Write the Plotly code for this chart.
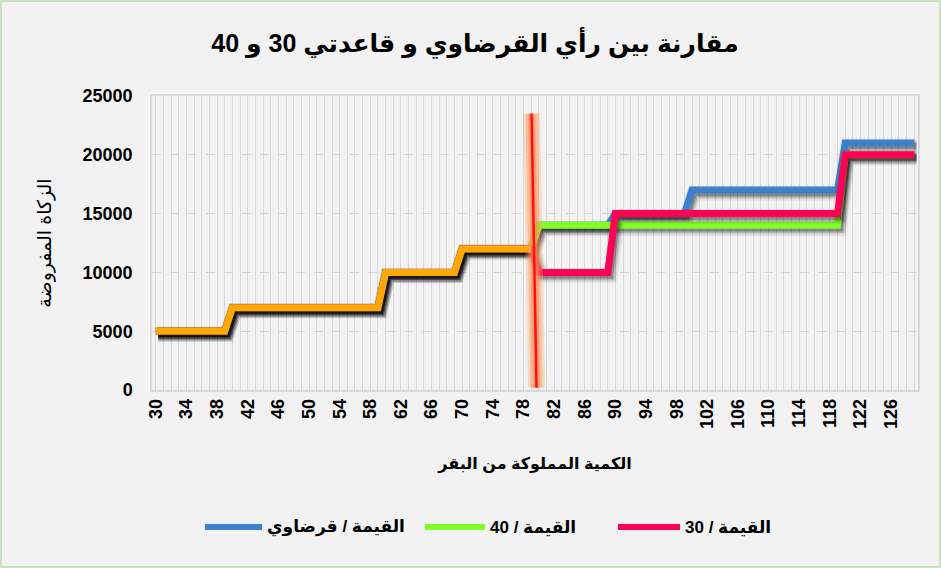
import plotly.graph_objects as go

# ---- data ----
quantity = list(range(30, 130))  # categories: number of cows owned

qaradawi = ([5000] * 10 + [7000] * 20 + [10000] * 10 + [12000] * 10 +
            [14000] * 10 + [15000] * 10 + [17000] * 20 + [21000] * 10)
rule_40 = ([5000] * 10 + [7000] * 20 + [10000] * 10 + [12000] * 10 +
           [14000] * 40 + [20000] * 10)
rule_30 = ([5000] * 10 + [7000] * 20 + [10000] * 10 + [12000] * 10 +
           [10000] * 10 + [15000] * 30 + [20000] * 10)
common_end = 79  # all three views agree up to this quantity (orange part)

divider_x = [79.05, 79.7]
divider_y = [23500, 200]

tick_labels = list(range(30, 127, 4))
y_ticks = [0, 5000, 10000, 15000, 20000, 25000]

names = ["القيمة / قرضاوي", "القيمة / 40", "القيمة / 30"]
colors = ["#3D80CC", "#80FF26", "#FF0055"]
orange = "#FFA800"

title_text = "مقارنة بين رأي القرضاوي و قاعدتي 30 و 40"
x_title = "الكمية المملوكة من البقر"
y_title = "الزكاة المفروضة"

# ---- figure ----
W, H = 941, 568
ML, MR, MT, MB = 152, 23, 96, 178
PW, PH = W - ML - MR, H - MT - MB

fig = go.Figure()

LW = 7
SDX, SDY = 0.3, -260  # drop shadow offset (data units)


def add_series(xs, ys, color, name=None):
    sx = [v + SDX for v in xs]
    sy = [v + SDY for v in ys]
    for w, a in [(LW + 8, 0.05), (LW + 5, 0.09), (LW + 2, 0.14), (LW - 1, 0.24)]:
        fig.add_trace(go.Scatter(x=sx, y=sy, mode="lines", showlegend=False, hoverinfo="skip",
                                 line=dict(color="rgba(0,0,0,%.2f)" % a, width=w)))
    fig.add_trace(go.Scatter(x=xs, y=ys, mode="lines", name=name, showlegend=False,
                             line=dict(color=color, width=LW)))


for ys, c, n in zip([qaradawi, rule_40, rule_30], colors, names):
    add_series(quantity, ys, c, n)

n_common = quantity.index(common_end) + 1
add_series(quantity[:n_common], qaradawi[:n_common], orange)

# vertical divider with glow
for w, col in [(17, "rgba(255,160,100,0.30)"), (12, "rgba(255,150,90,0.40)"), (7, "rgba(255,130,80,0.55)")]:
    fig.add_trace(go.Scatter(x=divider_x, y=divider_y, mode="lines", showlegend=False, hoverinfo="skip",
                             line=dict(color=col, width=w)))
fig.add_trace(go.Scatter(x=divider_x, y=divider_y, mode="lines", showlegend=False, hoverinfo="skip",
                         line=dict(color="#FF1010", width=2.5)))

font_fam = "Liberation Sans, Arial, DejaVu Sans, sans-serif"

# ---- legend (drawn in the bottom margin) ----
leg_y = (390 - 527) / PH
leg_line_x = [(205, 262), (425, 485), (618, 680)]
shapes = [dict(type="rect", xref="paper", yref="paper",
               x0=(-ML + 1) / PW, x1=1 + (MR - 1) / PW,
               y0=-(MB - 1) / PH, y1=1 + (MT - 1) / PH,
               line=dict(color="#BFDDB0", width=1.5), fillcolor="rgba(0,0,0,0)", layer="below")]
annotations = []
for (a, b), c, n in zip(leg_line_x, colors, names):
    shapes.append(dict(type="line", xref="paper", yref="paper",
                       x0=(a - ML) / PW, x1=(b - ML) / PW, y0=leg_y, y1=leg_y,
                       line=dict(color=c, width=6)))
    annotations.append(dict(xref="paper", yref="paper", x=(b + 3 - ML) / PW, y=leg_y,
                            xanchor="left", yanchor="middle", showarrow=False,
                            text="<b>" + n + "</b>", font=dict(size=17, color="#000000")))

fig.update_layout(
    width=W, height=H,
    margin=dict(l=ML, r=MR, t=MT, b=MB, autoexpand=False),
    paper_bgcolor="#F2F2F2", plot_bgcolor="#F2F2F2",
    font=dict(family=font_fam, color="#000000"),
    title=dict(text="<b>" + title_text + "</b>", x=(475 - ML) / PW, xref="paper", xanchor="center",
               y=1 - 43 / H, yanchor="middle", font=dict(size=25, color="#000000")),
    showlegend=False,
    xaxis=dict(range=[29.5, 129.5], tickmode="array", tickvals=tick_labels,
               ticktext=[str(v) for v in tick_labels], tickangle=-90,
               tickfont=dict(size=18, weight="bold", color="#000000"),
               showgrid=True, gridcolor="#D9D9D9", gridwidth=1,
               minor=dict(dtick=1, tick0=30, showgrid=True, gridcolor="#D9D9D9", gridwidth=1),
               showline=True, linecolor="#D9D9D9", linewidth=1.5, mirror=True,
               zeroline=False, ticks="", automargin=False,
               title=dict(text="<b>" + x_title + "</b>", font=dict(size=16, color="#000000"), standoff=30)),
    yaxis=dict(range=[0, 25000], tickmode="array", tickvals=y_ticks,
               ticktext=[str(v) for v in y_ticks],
               tickfont=dict(size=18, weight="bold", color="#000000"),
               showgrid=True, gridcolor="#D4D4D4", gridwidth=1, griddash="dash",
               showline=True, linecolor="#D9D9D9", linewidth=1.5, mirror=True,
               zeroline=False, ticks="", ticklabelstandoff=14, automargin=False,
               title=dict(text=y_title, font=dict(size=19, color="#000000"), standoff=26)),
    shapes=shapes,
    annotations=annotations,
)

fig.write_html("out.html", config={"displayModeBar": False},
               post_script="document.body.style.margin='0';document.body.style.background='#F2F2F2';")
